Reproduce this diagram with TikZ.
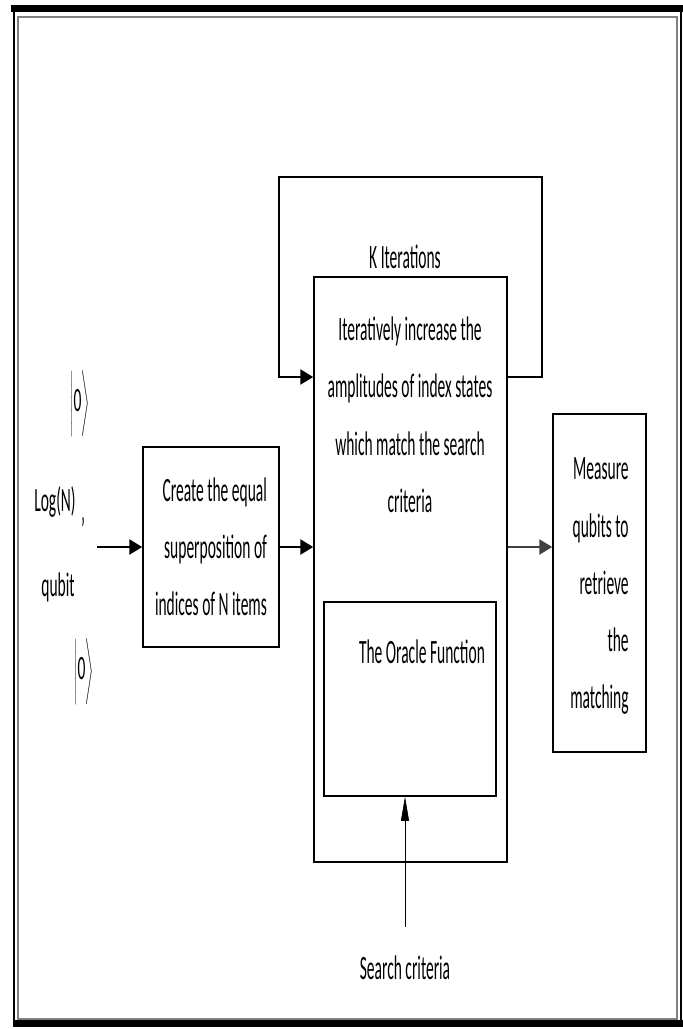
\documentclass[tikz,border=0pt]{standalone}
\usepackage{fontspec}
\setmainfont{Carlito}
\usepackage{graphicx}
\usepackage{tikz}
\usetikzlibrary{arrows.meta,calc}
\newcommand{\tallness}{2.2}
\newcommand{\lw}{1.5pt}
\newcommand{\talltext}[2][c]{\scalebox{1}[\tallness]{\renewcommand{\arraystretch}{1.37}\begin{tabular}{@{}#1@{}}#2\end{tabular}}}
\newcommand{\ket}{$\left|\rule[-3pt]{0pt}{20pt}\mbox{0}\right\rangle$}
\tikzset{
  box/.style={draw, rectangle, line width=\lw, fill=white, inner sep=0pt},
  txt/.style={inner sep=0pt, font=\fontsize{15.5}{19}\selectfont},
  conn/.style={line width=2.5pt, -{Triangle[length=13pt,width=15pt]}},
  thinconn/.style={line width=0.6pt, -{Triangle[length=24pt,width=8pt]}}
}

\begin{document}
\begin{tikzpicture}[x=1pt, y=-1pt]
\useasboundingbox (0,0) rectangle (683,1029);
%frame
\fill[black] (11,5) rectangle (683,12);
\fill[black] (14,1020) rectangle (683,1027);
\draw[black, line width=1.2pt] (14,12) -- (14,1027);
\draw[black, line width=1.2pt] (681,12) -- (681,1027);
\draw[gray, line width=1.5pt] (18,17) rectangle (677,1019);
%qubits
\node[txt] (ket1) at (80, 404) {\talltext{\ket}};
\node[txt] (logn) at (55, 500) {\talltext{Log(N)}};
\node[txt] (tick) at (83, 530) {\talltext{'}};
\node[txt] (qubit) at (58, 585) {\talltext{qubit}};
\node[txt] (ket2) at (84, 672) {\talltext{\ket}};
\coordinate (in) at (97, 547);
%loop
\node[txt] (kiter) at (405, 257) {\talltext{K Iterations}};
\coordinate (loop) at (542, 177);
\coordinate (kin) at (279, 377);
%boxes
\node[box, txt, minimum width=136pt, minimum height=200pt] (create) at (211, 547) {\talltext[r]{Create the equal\\superposition of\\indices of N items}};
\node[box, minimum width=193pt, minimum height=585pt] (iter) at (410.5, 569.5) {};
\node[txt] (itertext) at (410, 415) {\talltext{Iteratively increase the\\amplitudes of index states\\which match the search\\criteria}};
\node[box, minimum width=172pt, minimum height=194pt] (oracle) at (410, 699) {};
\node[txt] (oracletext) at (422, 652) {\talltext{The Oracle Function}};
\node[box, txt, minimum width=93pt, minimum height=338pt] (measure) at (599.5, 583) {\talltext[r]{Measure\\qubits to\\retrieve\\the\\matching}};
\node[txt] (search) at (405, 968) {\talltext{Search criteria}};
\coordinate (crit) at (405, 927);
%arrows
\draw[conn] (in) -- (create.west);
\draw[conn] (create.east) -- (iter.west |- create);
\draw[conn, black!75] (iter.east |- create) -- (measure.west |- create);
\draw[conn] (iter.east |- kin) -| (loop) -| (kin) -- (iter.west |- kin);
\draw[thinconn] (crit) -- (crit |- oracle.south);
\end{tikzpicture}
\end{document}
